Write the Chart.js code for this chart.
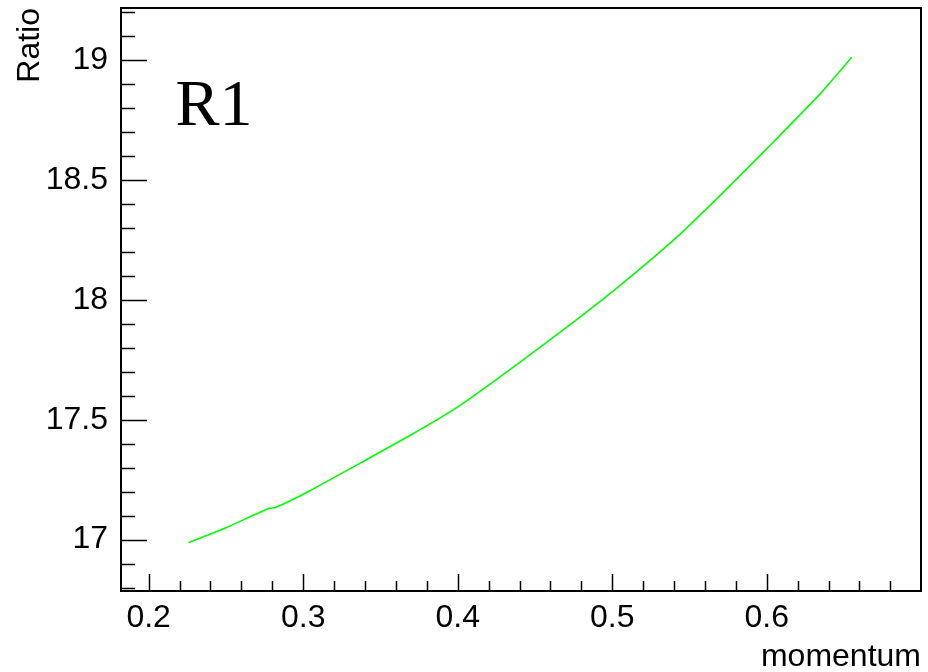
<!DOCTYPE html>
<html>
<head>
<meta charset="utf-8">
<title>Ratio vs momentum</title>
<script src="https://cdn.jsdelivr.net/npm/chart.js@4/dist/chart.umd.min.js"></script>
<style>
    body { margin: 0; background: #ffffff; }
    canvas { display: block; }
</style>
</head>
<body>
<canvas id="ratioChart" width="928" height="672"></canvas>
<script>
// curve samples
const momentum = [0.2259, 0.25, 0.2776, 0.2820, 0.3035, 0.3369, 0.3693, 0.4016, 0.4404, 0.4749, 0.5051, 0.5418, 0.5730, 0.6010, 0.6345, 0.6550];
const ratio = [16.988, 17.05, 17.130, 17.134, 17.201, 17.319, 17.435, 17.560, 17.740, 17.907, 18.060, 18.261, 18.455, 18.636, 18.858, 19.011];

// axis labels
const xTicks = [0.2, 0.3, 0.4, 0.5, 0.6];
const yTicks = [17, 17.5, 18, 18.5, 19];
const xRange = [0.1821, 0.6998];
const yRange = [16.786, 19.216];
const panelLabel = "R1";

const FONT = "'Liberation Sans', Arial, Helvetica, sans-serif";

// frame + inward major/minor ticks
const framePlugin = {
    id: "frame",
    afterDraw(chart) {
        const ctx = chart.ctx;
        const area = chart.chartArea;
        const xs = chart.scales.x;
        const ys = chart.scales.y;

        ctx.save();
        ctx.strokeStyle = "#000";
        ctx.lineWidth = 1.5;

        ctx.beginPath();
        const xStep = (xTicks[1] - xTicks[0]) / 5;
        for (let v = xTicks[0] - 5 * xStep; v <= xRange[1] + 1e-9; v += xStep) {
            if (v < xRange[0]) continue;
            const px = Math.round(xs.getPixelForValue(v)) + 0.5;
            const major = xTicks.some(t => Math.abs(t - v) < 1e-6);
            ctx.moveTo(px, area.bottom);
            ctx.lineTo(px, area.bottom - (major ? 17 : 10));
        }
        const yStep = (yTicks[1] - yTicks[0]) / 5;
        for (let v = yTicks[0] - 5 * yStep; v <= yRange[1] + 1e-9; v += yStep) {
            if (v < yRange[0]) continue;
            const py = Math.round(ys.getPixelForValue(v)) + 0.5;
            const major = yTicks.some(t => Math.abs(t - v) < 1e-6);
            ctx.moveTo(area.left, py);
            ctx.lineTo(area.left + (major ? 26 : 14), py);
        }
        ctx.stroke();

        ctx.lineWidth = 2;
        ctx.strokeRect(area.left, area.top, area.right - area.left, area.bottom - area.top);

        ctx.fillStyle = "#000";
        ctx.font = "66px 'Liberation Serif', 'Times New Roman', serif";
        ctx.textAlign = "left";
        ctx.textBaseline = "alphabetic";
        ctx.fillText(panelLabel, xs.getPixelForValue(0.2173), ys.getPixelForValue(18.73));
        ctx.restore();
    }
};

// keep tick labels from pushing the plot frame inward
function noLabelPadding(s) {
    s.paddingTop = 0;
    s.paddingBottom = 0;
    s.paddingLeft = 0;
    s.paddingRight = 0;
}

function drawChart() {
    const ctx = document.getElementById("ratioChart").getContext("2d");

    new Chart(ctx, {
        type: "scatter",
        data: {
            datasets: [{
                data: momentum.map((x, i) => ({ x: x, y: ratio[i] })),
                showLine: true,
                borderColor: "#00ff00",
                borderWidth: 1.6,
                pointRadius: 0,
                tension: 0.2
            }]
        },
        options: {
            responsive: false,
            animation: false,
            layout: { padding: { top: 8, right: 7, left: 0, bottom: 0 } },
            plugins: {
                legend: { display: false },
                tooltip: { enabled: false }
            },
            scales: {
                x: {
                    type: "linear",
                    min: xRange[0],
                    max: xRange[1],
                    afterBuildTicks: s => { s.ticks = xTicks.map(v => ({ value: v })); },
                    afterFit: s => { s.height = 81; noLabelPadding(s); },
                    grid: { drawOnChartArea: false, drawTicks: false },
                    border: { display: false },
                    ticks: {
                        padding: 8,
                        color: "#000",
                        font: { family: FONT, size: 32 },
                        callback: v => String(v)
                    },
                    title: {
                        display: true,
                        text: "momentum",
                        align: "end",
                        color: "#000",
                        font: { family: FONT, size: 32 },
                        padding: { top: 0, bottom: -4 }
                    }
                },
                y: {
                    type: "linear",
                    min: yRange[0],
                    max: yRange[1],
                    afterBuildTicks: s => { s.ticks = yTicks.map(v => ({ value: v })); },
                    afterFit: s => { s.width = 121; noLabelPadding(s); },
                    grid: { drawOnChartArea: false, drawTicks: false },
                    border: { display: false },
                    ticks: {
                        padding: 13,
                        color: "#000",
                        font: { family: FONT, size: 32 },
                        callback: v => String(v)
                    },
                    title: {
                        display: true,
                        text: "Ratio",
                        align: "end",
                        color: "#000",
                        font: { family: FONT, size: 32 },
                        padding: { top: 11, bottom: 0 }
                    }
                }
            }
        },
        plugins: [framePlugin]
    });
}

window.onload = drawChart;
</script>
</body>
</html>
